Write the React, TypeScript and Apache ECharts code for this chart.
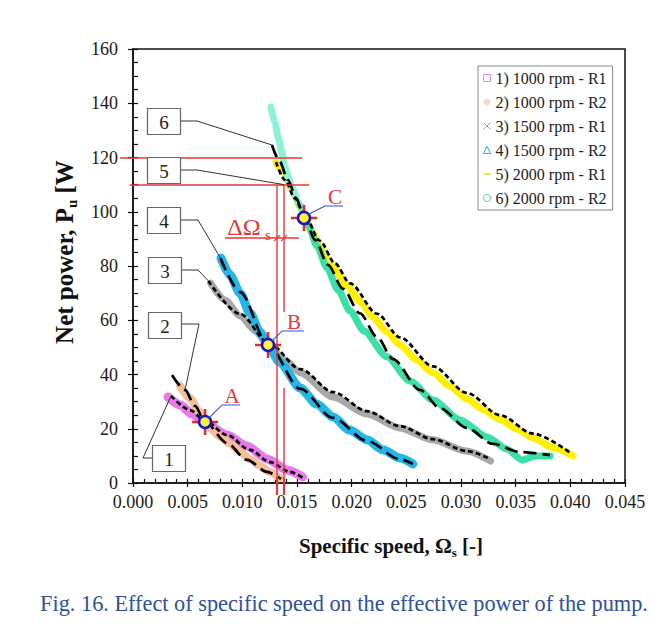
import { useEffect, useRef } from "react";
import * as echarts from "echarts";

const FONT = "'Liberation Serif', 'Times New Roman', serif";

// Axes
const xAxisMin = 0;
const xAxisMax = 0.045;
const xAxisStep = 0.005;
const yAxisMin = 0;
const yAxisMax = 160;
const yAxisStep = 20;

const seriesNames = [
  "1) 1000 rpm - R1",
  "2) 1000 rpm - R2",
  "3) 1500 rpm - R1",
  "4) 1500 rpm - R2",
  "5) 2000 rpm - R1",
  "6) 2000 rpm - R2",
];

const data1 = [
  [0.0032, 31.7], [0.0043, 28.8], [0.0054, 25.4], [0.0066, 22.1], [0.0086, 17.7],
  [0.0104, 13.6], [0.0123, 8.8], [0.0141, 4.8], [0.0155, 2.2],
];
const data2 = [
  [0.0043, 35.8], [0.0052, 31.3], [0.0061, 26.2], [0.007, 20.3], [0.008, 17.0],
  [0.0089, 14.4], [0.0098, 11.4], [0.0107, 8.8], [0.0116, 6.3], [0.0125, 4.1], [0.0134, 1.8],
];
const data3 = [
  [0.0071, 73.7], [0.0084, 67.5], [0.0098, 61.6], [0.0112, 56.0], [0.01235, 50.9],
  [0.0139, 45.3], [0.0153, 40.6], [0.0183, 31.7], [0.0214, 25.4], [0.0244, 20.3],
  [0.0274, 15.9], [0.0305, 11.8], [0.0327, 8.1],
];
const data4 = [
  [0.00805, 82.9], [0.00887, 76.7], [0.00979, 70.0], [0.0107, 62.7], [0.0116, 55.7],
  [0.01235, 50.9], [0.0134, 44.6], [0.0153, 35.0], [0.0168, 29.1], [0.0183, 24.3],
  [0.0198, 19.5], [0.0214, 15.9], [0.0229, 12.2], [0.0244, 9.2], [0.0256, 7.0],
];
const data5 = [
  [0.01308, 118.0], [0.01381, 114.7], [0.01454, 108.0], [0.01527, 102.1], [0.01564, 98.4],
  [0.01637, 92.5], [0.01729, 85.9], [0.01829, 79.6], [0.01957, 72.8], [0.02076, 66.9],
  [0.02195, 61.2], [0.02323, 55.7], [0.02442, 50.9], [0.02597, 45.3], [0.02744, 40.6],
  [0.02899, 35.6], [0.03055, 31.0], [0.03201, 27.1], [0.03357, 23.4], [0.03512, 19.9],
  [0.03658, 16.6], [0.03841, 13.1], [0.04024, 10.0],
];
const data6 = [
  [0.01262, 138.6], [0.01299, 132.7], [0.01326, 127.6], [0.01363, 121.7], [0.0139, 116.1],
  [0.01454, 108.8], [0.01527, 102.3], [0.016, 95.1], [0.01683, 87.4], [0.01774, 79.3],
  [0.01875, 71.2], [0.01985, 63.4], [0.02113, 56.0], [0.02323, 46.5], [0.02533, 37.6],
  [0.02744, 30.6], [0.02991, 23.2], [0.03238, 17.0], [0.0342, 12.5], [0.03558, 8.5],
  [0.03677, 10.0], [0.03814, 10.0],
];

// Fitted curves (dashed)
const fit1 = [
  [0.00348, 32.1], [0.00521, 26.9], [0.00659, 22.9], [0.0086, 17.7], [0.0107, 12.2],
  [0.01253, 7.7], [0.01436, 4.1], [0.01555, 1.8],
];
const fit2 = [
  [0.00357, 39.8], [0.00476, 34.3], [0.00567, 28.4], [0.00659, 22.5], [0.0086, 14.7],
  [0.01043, 8.5], [0.01226, 4.1], [0.01354, 1.5],
];
const fit3 = [
  [0.0069, 74.5], [0.0098, 62.3], [0.0124, 51.6], [0.0153, 42.0], [0.0183, 33.5],
  [0.0214, 26.5], [0.0244, 21.0], [0.0274, 16.2], [0.0305, 11.8], [0.0327, 8.8],
];
const fit4 = [
  [0.008, 82.9], [0.0098, 70.4], [0.01235, 50.9], [0.0153, 34.7], [0.0183, 24.0],
  [0.0214, 15.5], [0.0244, 8.8], [0.0256, 7.0],
];
const fit5 = [
  [0.01308, 118.3], [0.0139, 111.7], [0.01482, 104.9], [0.01564, 99.1], [0.0171, 89.3],
  [0.01847, 81.0], [0.01985, 73.6], [0.02232, 62.4], [0.02442, 53.7], [0.02744, 43.0],
  [0.03055, 33.2], [0.03357, 25.0], [0.03658, 18.2], [0.03997, 11.2],
];
const fit6 = [
  [0.01271, 124.6], [0.01335, 119.1], [0.01418, 111.7], [0.01491, 105.1], [0.01564, 98.4],
  [0.01665, 89.6], [0.01783, 80.4], [0.01921, 71.6], [0.02076, 62.5], [0.02232, 53.8],
  [0.02378, 45.7], [0.02625, 34.3], [0.02808, 27.6], [0.03055, 20.3], [0.03293, 14.4],
  [0.0354, 11.4], [0.03814, 10.3],
];

// Operating points A, B, C
const markerPoints = [
  [0.00659, 22.5],
  [0.01235, 50.9],
  [0.01564, 97.7],
];
const markerLabels = ["A", "B", "C"];

// Reference construction lines
const refPowers = [120, 110];
const refPowerStarts = [-0.0012, -0.0003];
const refPowerEnds = [0.01546, 0.0161];
const deltaOmegaX = [0.01317, 0.01381];
const deltaOmegaLevel = 90.3;
const deltaOmegaSpan = [0.00841, 0.01518];

const seriesColors = ["#EA78EA", "#F5BF97", "#A8A8A8", "#22B6EA", "#FFF000", "#3DE0A4"];
const seriesWidths = [9, 8, 7, 9, 7, 7];

const RED = "#E83636";
const BLUE = "#3550E0";

export default function App() {
  const ref = useRef<HTMLDivElement>(null);

  useEffect(() => {
    if (!ref.current) return;
    const chart = echarts.init(ref.current, undefined, { renderer: "svg" });

    const greenGradient = new echarts.graphic.LinearGradient(0, 0, 0, 1, [
      { offset: 0, color: "#8EF2D6" },
      { offset: 0.26, color: "#8EF2D6" },
      { offset: 0.32, color: "#3DE0A4" },
      { offset: 1, color: "#3DE0A4" },
    ]);

    const allData = [data1, data2, data3, data4, data5, data6];
    const fits = [fit1, fit2, fit3, fit4, fit5, fit6];

    const legendIcons: any[] = [
      { icon: "rect", itemStyle: { color: "#fff", borderColor: "#E58AE0", borderWidth: 1 } },
      { icon: "circle", itemStyle: { color: "#F2DCCD", borderColor: "#F2DCCD", borderWidth: 0 } },
      { icon: "path://M0,0L10,10M10,0L0,10", itemStyle: { color: "transparent", borderColor: "#A0A0A0", borderWidth: 1 } },
      { icon: "triangle", itemStyle: { color: "#fff", borderColor: "#33AEE0", borderWidth: 1 } },
      { icon: "path://M0,0L0.01,0L0,0.01Z M0,4L10,4L10,6L0,6Z M10,10L9.99,10L10,9.99Z", itemStyle: { color: "#F2E200", borderColor: "#F2E200", borderWidth: 0 } },
      { icon: "circle", itemStyle: { color: "#fff", borderColor: "#45D8BE", borderWidth: 1 } },
    ];

    const tickLine = { color: "#111", width: 1.2 };

    const dataSeries = allData.map((d, i) => ({
      type: "line",
      name: seriesNames[i],
      data: d,
      symbol: "none",
      showSymbol: false,
      smooth: 0.25,
      smoothMonotone: "x",
      silent: true,
      lineStyle: {
        color: i === 5 ? greenGradient : seriesColors[i],
        width: seriesWidths[i],
        cap: "round",
        join: "round",
      },
      itemStyle: { color: seriesColors[i] },
      z: 2,
    }));

    const fitSeries = fits.map((d, i) => ({
      type: "line",
      name: "fit" + (i + 1),
      data: d,
      symbol: "none",
      showSymbol: false,
      smooth: 0.3,
      smoothMonotone: "x",
      silent: true,
      lineStyle: {
        color: "#000",
        width: 2.7,
        type: i % 2 === 0 ? [5, 3] : [13, 6],
      },
      z: 3,
    }));

    const option: any = {
      animation: false,
      backgroundColor: "#fff",
      grid: {
        left: 133,
        right: 26,
        top: 49,
        bottom: 147,
        show: true,
        borderColor: "#111",
        borderWidth: 1.5,
        backgroundColor: "transparent",
      },
      xAxis: [
        {
          type: "value",
          min: xAxisMin,
          max: xAxisMax,
          interval: xAxisStep,
          position: "bottom",
          axisLine: { show: true, onZero: false, lineStyle: { color: "#111", width: 1.5 } },
          axisTick: { show: true, inside: true, length: 4, lineStyle: tickLine },
          minorTick: { show: true, splitNumber: 5, length: 4, lineStyle: tickLine },
          splitLine: { show: false },
          axisLabel: {
            margin: 10,
            fontSize: 18,
            fontFamily: FONT,
            color: "#1a1a1a",
            formatter: (v: number) => v.toFixed(3),
          },
        },
        {
          type: "value",
          min: xAxisMin,
          max: xAxisMax,
          interval: xAxisStep,
          position: "bottom",
          axisLine: { show: false, onZero: false },
          axisTick: { show: true, inside: false, length: 4, lineStyle: tickLine },
          axisLabel: { show: false },
          splitLine: { show: false },
        },
      ],
      yAxis: [
        {
          type: "value",
          min: yAxisMin,
          max: yAxisMax,
          interval: yAxisStep,
          position: "left",
          axisLine: { show: true, onZero: false, lineStyle: { color: "#111", width: 1.5 } },
          axisTick: { show: true, inside: true, length: 5, lineStyle: tickLine },
          minorTick: { show: true, splitNumber: 4, length: 5, lineStyle: tickLine },
          splitLine: { show: false },
          axisLabel: { margin: 15, fontSize: 18, fontFamily: FONT, color: "#1a1a1a" },
        },
        {
          type: "value",
          min: yAxisMin,
          max: yAxisMax,
          interval: yAxisStep,
          position: "left",
          axisLine: { show: false, onZero: false },
          axisTick: { show: true, inside: false, length: 5, lineStyle: tickLine },
          axisLabel: { show: false },
          splitLine: { show: false },
        },
      ],
      legend: {
        data: seriesNames.map((n, i) => ({ name: n, icon: legendIcons[i].icon, itemStyle: legendIcons[i].itemStyle })),
        orient: "vertical",
        left: 478,
        top: 66,
        itemWidth: 7,
        itemHeight: 7,
        itemGap: 6,
        padding: [3, 6, 3, 5],
        borderColor: "#8a8a8a",
        borderWidth: 1,
        backgroundColor: "#fff",
        selectedMode: false,
        textStyle: { fontFamily: FONT, fontSize: 16, color: "#222", lineHeight: 18 },
      },
      series: [
        ...dataSeries,
        ...fitSeries,
        {
          type: "scatter",
          name: "markerCross",
          data: markerPoints,
          symbol: "path://M0,10L20,10M10,0L10,20",
          symbolSize: 26,
          silent: true,
          itemStyle: { color: "transparent", borderColor: "#E82A2A", borderWidth: 2.5, opacity: 1 },
          z: 6,
        },
        {
          type: "scatter",
          name: "markerDot",
          data: markerPoints,
          symbol: "circle",
          symbolSize: 12,
          silent: true,
          itemStyle: { color: "#FFF23A", borderColor: "#1616C4", borderWidth: 2.5, opacity: 1 },
          z: 7,
        },
      ],
    };

    chart.setOption(option);

    const toPx = (p: number[]) => chart.convertToPixel({ seriesIndex: 0 }, p) as number[];
    const line = (a: number[], b: number[], stroke: string, w = 1, z = 20) => ({
      type: "line",
      silent: true,
      z,
      shape: { x1: a[0], y1: a[1], x2: b[0], y2: b[1] },
      style: { stroke, lineWidth: w },
    });
    const hLine = (xa: number, xb: number, yv: number, w = 1.4) => {
      const a = toPx([xa, yv]);
      const b = toPx([xb, yv]);
      const y = Math.round(a[1]);
      return line([a[0], y], [b[0], y], RED, w);
    };
    const vLine = (xv: number, ya: number, yb: number, w = 1.4) => {
      const a = toPx([xv, ya]);
      const b = toPx([xv, yb]);
      const x = Math.round(a[0]);
      return line([x, a[1]], [x, b[1]], RED, w);
    };
    const text = (x: number, y: number, t: string, size: number, fill: string, extra: any = {}) => ({
      type: "text",
      silent: true,
      z: 30,
      x,
      y,
      style: {
        text: t,
        fontFamily: FONT,
        fontSize: size,
        fill,
        align: "center",
        textAlign: "center",
        verticalAlign: "middle",
        textVerticalAlign: "middle",
        ...extra,
      },
    });

    const graphics: any[] = [];

    // Red horizontal reference lines at 120 and 110 W
    refPowers.forEach((p, i) => {
      graphics.push(hLine(refPowerStarts[i], refPowerEnds[i], p));
    });
    // Red vertical lines (delta Omega_s construction)
    const bottomVal = -4.4;
    graphics.push(vLine(deltaOmegaX[0], refPowers[1], bottomVal));
    graphics.push(vLine(deltaOmegaX[1], refPowers[1], 63));
    graphics.push(vLine(deltaOmegaX[1], 35, bottomVal));
    deltaOmegaX.forEach((xv) => {
      graphics.push(vLine(xv, 2, bottomVal, 2.2));
    });
    // Delta Omega dimension line
    const dl = toPx([deltaOmegaSpan[0], deltaOmegaLevel]);
    graphics.push(hLine(deltaOmegaSpan[0], deltaOmegaSpan[1], deltaOmegaLevel));
    deltaOmegaX.forEach((xv) => {
      const c = toPx([xv, deltaOmegaLevel]);
      graphics.push(line([c[0] - 3, c[1] + 3], [c[0] + 3, c[1] - 3], RED, 1.2));
    });
    graphics.push(text(dl[0] + 19, dl[1] - 11, "ΔΩ", 24, RED));
    graphics.push(text(dl[0] + 43, dl[1] - 3, "s", 15, RED));

    // Marker labels A, B, C with blue leaders
    const leaderOffsets = [
      [17, -17, 35],
      [14, -14, 36],
      [21, -12, 39],
    ];
    markerPoints.forEach((p, i) => {
      const c = toPx(p);
      const [dx, dy, ex] = leaderOffsets[i];
      graphics.push({
        type: "polyline",
        silent: true,
        z: 25,
        shape: { points: [[c[0] + 3, c[1] - 3], [c[0] + dx, c[1] + dy], [c[0] + ex, c[1] + dy]] },
        style: { stroke: BLUE, lineWidth: 1.1, fill: "none" },
      });
      graphics.push(text(c[0] + (dx + ex) / 2 + 1, c[1] + dy - 9, markerLabels[i], 21, RED));
    });

    // Numbered boxes with leaders
    const boxes = [
      { label: "6", x: 147, y: 108, anchor: [180, 121], elbow: [197, 121], target: fit6[0] },
      { label: "5", x: 147, y: 157, anchor: [180, 170], elbow: [197, 170], target: [deltaOmegaX[1], refPowers[1]] },
      { label: "4", x: 147, y: 207, anchor: [180, 220], elbow: [198, 220], target: fit4[0] },
      { label: "3", x: 148, y: 257, anchor: [180, 270], elbow: [198, 270], target: fit3[0] },
      { label: "2", x: 148, y: 312, anchor: [180, 324], elbow: [199, 324], target: fit2[1] },
      { label: "1", x: 152, y: 445, anchor: [152, 458], elbow: [143, 458], target: fit1[0] },
    ];
    boxes.forEach((b) => {
      const t = toPx(b.target);
      graphics.push({
        type: "polyline",
        silent: true,
        z: 22,
        shape: { points: [b.anchor, b.elbow, t] },
        style: { stroke: "#333", lineWidth: 1, fill: "none" },
      });
      graphics.push({
        type: "rect",
        silent: true,
        z: 23,
        shape: { x: b.x + 0.5, y: b.y + 0.5, width: 33, height: 26 },
        style: { fill: "#fff", stroke: "#666", lineWidth: 1.2 },
      });
      graphics.push(text(b.x + 17, b.y + 14, b.label, 19, "#222"));
    });

    // Axis titles
    graphics.push({
      type: "text",
      silent: true,
      z: 30,
      x: 391,
      y: 546,
      style: {
        text: "{a|Specific speed, Ω}{b|s}{a| [-]}",
        align: "center",
        textAlign: "center",
        verticalAlign: "middle",
        textVerticalAlign: "middle",
        rich: {
          a: { fontFamily: FONT, fontSize: 21, fontWeight: "bold", fill: "#111", lineHeight: 26 },
          b: { fontFamily: FONT, fontSize: 13, fontWeight: "bold", fill: "#111", lineHeight: 26, verticalAlign: "bottom" },
        },
      },
    });
    graphics.push({
      type: "text",
      silent: true,
      z: 30,
      x: 64,
      y: 252,
      rotation: Math.PI / 2,
      style: {
        text: "{a|Net power, P}{b|u}{a| [W}",
        align: "center",
        textAlign: "center",
        verticalAlign: "middle",
        textVerticalAlign: "middle",
        rich: {
          a: { fontFamily: FONT, fontSize: 25, fontWeight: "bold", fill: "#111", lineHeight: 30 },
          b: { fontFamily: FONT, fontSize: 15, fontWeight: "bold", fill: "#111", lineHeight: 30, verticalAlign: "bottom" },
        },
      },
    });
    // Caption
    graphics.push(text(344, 603, "Fig. 16. Effect of specific speed on the effective power of the pump.", 22.3, "#2F4F9F"));

    chart.setOption({ graphic: { elements: graphics } });

    return () => {
      chart.dispose();
    };
  }, []);

  return (
    <div
      ref={ref}
      style={{ position: "absolute", left: 0, top: 0, width: 651, height: 630 }}
    />
  );
}
